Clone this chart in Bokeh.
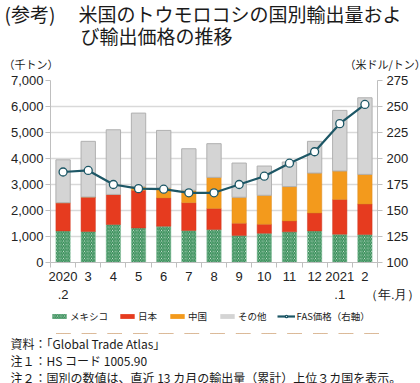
from bokeh.plotting import figure
from bokeh.layouts import column
from bokeh.models import (Range1d, LinearAxis, FixedTicker, Legend, LegendItem, Title,
                          ColumnDataSource, NumeralTickFormatter)
from bokeh.embed import file_html
from bokeh.resources import INLINE
import numpy as np

months = ["2020", "3", "4", "5", "6", "7", "8", "9", "10", "11", "12", "2021", "2"]
sub_labels = {0: ".2", 11: ".1"}
mexico = [1215, 1190, 1460, 1330, 1395, 1230, 1265, 1035, 1125, 1180, 1215, 1090, 1075]
japan = [1085, 1330, 1160, 1450, 1090, 1070, 810, 475, 345, 420, 690, 1330, 1175]
china = [0, 0, 0, 130, 380, 480, 1200, 1000, 1115, 1320, 1535, 1100, 1140]
other = [1650, 2140, 2485, 2836, 2215, 1595, 1295, 1315, 1125, 945, 1220, 2330, 2945]
price = [187, 188.5, 175, 171, 170.5, 167, 167, 175, 183, 195.5, 206.5, 233.5, 252]

series_names = ["メキシコ", "日本", "中国", "その他", "FAS価格（右軸）"]
title1 = "(参考)\u3000 米国のトウモロコシの国別輸出量およ"
title2 = "び輸出価格の推移"
unit_left = "（千トン）"
unit_right = "（米ドル/トン）"
notes = ["資料：「Global Trade Atlas」",
         "注１：HS コード 1005.90",
         "注２：国別の数値は、直近 13 カ月の輸出量（累計）上位３カ国を表示。"]

JP = "Noto Sans CJK JP"
NUM = "Liberation Sans"

# styles
MEX = dict(fill_color="white", hatch_pattern="\\", hatch_color="#2F8A52", hatch_scale=3.5,
           hatch_weight=1.3, line_color="#7DBB95", line_width=0.5)
JAP = dict(fill_color="#E63B1F", line_color="#CF3820", line_width=0.5)
CHI = dict(fill_color="#F39A1C", line_color="#DC8C22", line_width=0.5)
OTH = dict(fill_color="#D4D4D4", line_color="#B0B0B0", line_width=1)
LINE = dict(line_color="#1D5766", line_width=2.2)
MARK = dict(size=8, fill_color="white", line_color="#1D5766", line_width=1.3)

x = np.arange(len(months))
m = np.array(mexico, float)
j = np.array(japan, float)
c = np.array(china, float)
o = np.array(other, float)
src = ColumnDataSource(dict(x=x, b0=np.zeros(len(x)), t0=m, t1=m + j, t2=m + j + c,
                            t3=m + j + c + o, price=price))


def draw_series(fig, price_range=None, proxy=False):
    w = 0.57
    extra = {"line_alpha": 0} if proxy else {}
    rs = [fig.vbar(x="x", bottom="b0", top="t0", width=w, source=src, **MEX, **extra),
          fig.vbar(x="x", bottom="t0", top="t1", width=w, source=src, **JAP, **extra),
          fig.vbar(x="x", bottom="t1", top="t2", width=w, source=src, **CHI, **extra),
          fig.vbar(x="x", bottom="t2", top="t3", width=w, source=src, **OTH, **extra)]
    kw = {} if price_range is None else {"y_range_name": price_range}
    rl = fig.line(x="x", y="price", source=src, **kw, **LINE)
    rm = fig.scatter(x="x", y="price", source=src, **kw, **MARK)
    return rs, rl, rm


p = figure(frame_width=327, frame_height=182, output_backend="svg", toolbar_location=None,
           x_range=Range1d(-0.5, 12.5), y_range=Range1d(0, 7000),
           min_border_left=50, min_border_right=43, min_border_top=0, min_border_bottom=0)
p.outline_line_color = None
p.extra_y_ranges = {"price": Range1d(100, 275)}
draw_series(p, "price")

# x axis: month labels, ticks between bars
ax = p.xaxis[0]
ax.ticker = FixedTicker(ticks=list(range(13)), minor_ticks=[i + 0.5 for i in range(-1, 13)])
ax.major_label_overrides = {i: s for i, s in enumerate(months)}
ax.major_tick_out = 0
ax.major_tick_in = 0
ax.minor_tick_out = 5
ax.minor_tick_in = 0
ax.minor_tick_line_color = "#BFBFBF"
ax.axis_line_color = "#BFBFBF"
ax.major_label_text_font = NUM
ax.major_label_text_font_size = "13px"
ax.major_label_text_color = "#222222"
ax.major_label_standoff = 4

# second row of x labels: ".2", ".1" and the unit (年.月)
ax2 = LinearAxis(ticker=FixedTicker(ticks=[0, 11, 12.5]))
ax2.major_label_overrides = {0: sub_labels[0], 11: sub_labels[11],
                             12.5: "\u3000\u3000\u2002（年.月）"}
ax2.axis_line_color = None
ax2.major_tick_line_color = None
ax2.minor_tick_line_color = None
ax2.major_tick_out = 0
ax2.major_tick_in = 0
ax2.minor_tick_out = 0
ax2.major_label_standoff = 3
ax2.major_label_text_font = NUM
ax2.major_label_text_font_size = "13px"
ax2.major_label_text_color = "#222222"
p.add_layout(ax2, "below")

p.yaxis.ticker = FixedTicker(ticks=list(range(0, 7001, 1000)))
p.yaxis.formatter = NumeralTickFormatter(format="0,0")
p.yaxis.minor_tick_line_color = None
p.yaxis.major_tick_out = 5
p.yaxis.major_tick_in = 0
p.yaxis.major_tick_line_color = "#BFBFBF"
p.yaxis.axis_line_color = "#BFBFBF"
p.yaxis.major_label_text_font = NUM
p.yaxis.major_label_text_font_size = "13px"
p.yaxis.major_label_text_color = "#222222"
p.yaxis.major_label_standoff = 2

ra = LinearAxis(y_range_name="price", ticker=FixedTicker(ticks=list(range(100, 276, 25))))
ra.minor_tick_line_color = None
ra.major_tick_out = 5
ra.major_tick_in = 0
ra.major_tick_line_color = "#BFBFBF"
ra.axis_line_color = "#BFBFBF"
ra.major_label_text_font = NUM
ra.major_label_text_font_size = "13px"
ra.major_label_text_color = "#222222"
ra.major_label_standoff = 4
p.add_layout(ra, "right")

p.xgrid.grid_line_color = None
p.ygrid.grid_line_color = "#D9D9D9"
p.ygrid.grid_line_width = 1.5


def add_title(fig, text, side, size, offset, standoff=0.0):
    t = Title(text=text, align="left", offset=offset, standoff=standoff,
              text_font=JP, text_font_size=size, text_font_style="normal",
              text_color="#1a1a1a")
    fig.add_layout(t, side)


# above: added from the frame outward
units = unit_left + "\u3000" * 27 + unit_right
add_title(p, units, "above", "11px", -47, standoff=17)
add_title(p, title2, "above", "19px", 30, standoff=-7)
add_title(p, title1, "above", "19px", -46, standoff=-6)

# ---- legend strip + notes (second figure); the same series, kept far out of
# view, provide the legend glyphs
lg = figure(frame_width=334, frame_height=29, output_backend="svg", toolbar_location=None,
            x_range=Range1d(-0.5, 12.5), y_range=Range1d(100000, 100001),
            x_axis_location=None, y_axis_location=None,
            min_border_left=43, min_border_right=43, min_border_top=0, min_border_bottom=0)
lg.outline_line_color = None
lg.grid.visible = False
(k_mex, k_jap, k_chi, k_oth), k_line, k_mark = draw_series(lg, proxy=True)

legend = Legend(items=[
    LegendItem(label=series_names[0], renderers=[k_mex]),
    LegendItem(label=series_names[1], renderers=[k_jap]),
    LegendItem(label=series_names[2], renderers=[k_chi]),
    LegendItem(label=series_names[3], renderers=[k_oth]),
    LegendItem(label=series_names[4], renderers=[k_line, k_mark]),
], orientation="horizontal", location=(0, 10), border_line_color=None,
    background_fill_alpha=0, label_text_font=JP, label_text_font_size="9.5px",
    label_text_color="#222222", glyph_width=18, glyph_height=6, spacing=10,
    label_standoff=2, padding=0, margin=0, label_height=12)
lg.add_layout(legend, "center")

for n in notes:
    add_title(lg, n, "below", "12px", -40, standoff=-2)

layout = column(p, lg, spacing=0)
open("out.html", "w").write(file_html(layout, INLINE))
